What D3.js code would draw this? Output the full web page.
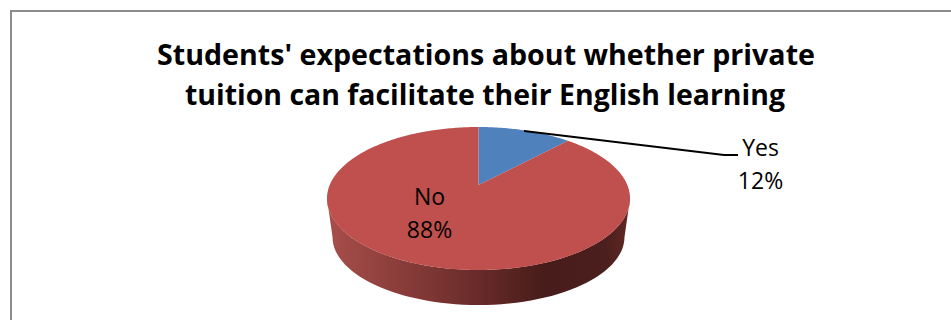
<!DOCTYPE html>
<html>
<head>
<meta charset="utf-8">
<script src="https://cdn.jsdelivr.net/npm/d3@7"></script>
<style>
html,body{margin:0;padding:0;background:#fff;overflow:hidden}
svg{display:block}
text{font-family:"Open Sans",sans-serif;fill:#000}
</style>
</head>
<body>
<svg id="chart" width="951" height="320"></svg>
<script>
// Survey shares
const categories = ["Yes", "No"];
const shares = [12, 88];
const sliceColours = ["#4f81bd", "#c0504d"];
const titleLines = [
  "Students' expectations about whether private",
  "tuition can facilitate their English learning"
];

const svg = d3.select("#chart");
const TAU = Math.PI * 2;

// Slice angles, clockwise from the far edge of the disc
const arcs = d3.pie().sort(null).startAngle(0).endAngle(TAU)(shares);

// Perspective mapping of the unit disc onto the page
const cx = 478.5, apexY = 185, persp = -0.189, yGain = 34, xGain = 148.8;
function project(angle) {
  const u = Math.sin(angle), v = -Math.cos(angle);
  const d = 1 + persp * v;
  return [cx + xGain * u / d, (apexY + yGain * v) / d];
}
const line = d3.line();
function slicePath(a) {
  const n = Math.max(8, Math.ceil((a.endAngle - a.startAngle) * 60));
  const rim = d3.range(n + 1).map(i => project(a.startAngle + (a.endAngle - a.startAngle) * i / n));
  return line([[cx, apexY], ...rim]) + "Z";
}

// Shaded wall beneath the near half of the disc
const defs = svg.append("defs");
const wallStops = [[0, "#a84e4b"], [0.2, "#8f403d"], [0.5, "#682b29"], [0.72, "#471c1a"], [0.92, "#4a1f1d"], [1, "#622825"]];
const grad = defs.append("linearGradient").attr("id", "wall")
  .attr("gradientUnits", "userSpaceOnUse")
  .attr("x1", 327).attr("x2", 630).attr("y1", 0).attr("y2", 0);
grad.selectAll("stop").data(wallStops).join("stop")
  .attr("offset", d => d[0]).attr("stop-color", d => d[1]);

const baseCy = 237, baseRx = 146, baseRy = 68;
const halfSweep = d3.range(0, 181, 3).map(t => t * Math.PI / 180);
const upper = halfSweep.map(t => [cx + 151.5 * Math.cos(t), 198.5 + 71.5 * Math.sin(t)]);
const lower = halfSweep.map(t => [cx + baseRx * Math.cos(t), baseCy + baseRy * Math.sin(t)]).reverse();
svg.append("path").attr("d", line([...upper, ...lower]) + "Z").attr("fill", "url(#wall)");

// Disc top
svg.append("g").selectAll("path").data(arcs).join("path")
  .attr("d", slicePath)
  .attr("fill", (d, i) => sliceColours[i]);

// Chart frame: left and top edges only
svg.append("path").attr("d", "M11,320V11H951")
  .attr("fill", "none").attr("stroke", "#8c8c8c").attr("stroke-width", 2);

// Title, each line fitted to its set width
const titleWidths = [658, 600];
svg.append("g").selectAll("text").data(titleLines).join("text")
  .attr("x", (d, i) => i ? 485 : 486).attr("y", (d, i) => 65 + i * 40)
  .attr("text-anchor", "middle")
  .attr("font-size", 29).attr("font-weight", 700)
  .attr("textLength", (d, i) => titleWidths[i])
  .attr("lengthAdjust", "spacingAndGlyphs")
  .text(d => d);

// Data labels
const labelAt = [[760.5, 156, 189], [429.5, 205, 238]];
const labels = svg.append("g").selectAll("g").data(categories).join("g");
labels.append("text").attr("x", (d, i) => labelAt[i][0]).attr("y", (d, i) => labelAt[i][1])
  .attr("text-anchor", "middle").attr("font-size", 23).text(d => d);
labels.append("text").attr("x", (d, i) => labelAt[i][0]).attr("y", (d, i) => labelAt[i][2])
  .attr("text-anchor", "middle").attr("font-size", 23).text((d, i) => shares[i] + "%");

// Leader from the Yes slice to its label
svg.append("path").attr("d", "M524,131L724,155H738")
  .attr("fill", "none").attr("stroke", "#000").attr("stroke-width", 1.8);
</script>
</body>
</html>
